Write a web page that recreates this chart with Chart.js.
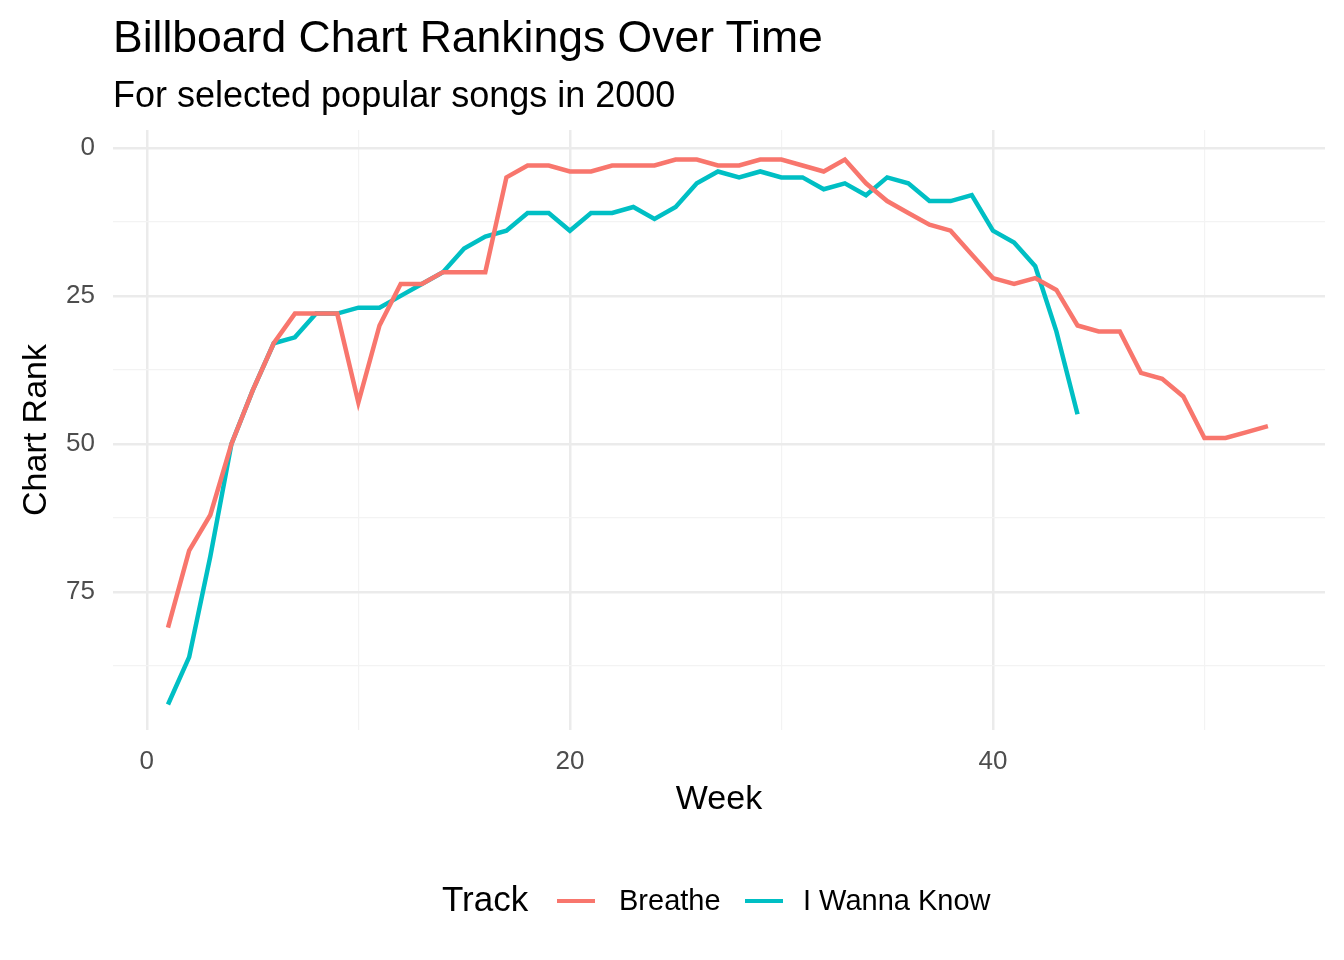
<!DOCTYPE html>
<html><head><meta charset="utf-8">
<script src="https://cdn.jsdelivr.net/npm/chart.js@4"></script>
<style>
body{margin:0;background:#fff;font-family:Arial,"Liberation Sans",sans-serif;}
#wrap{position:relative;width:1344px;height:960px;}
canvas{position:absolute;left:0;top:0;}
.t{position:absolute;white-space:nowrap;color:#000;}
.sw{position:absolute;height:4px;width:38px;top:899px;}
</style></head><body>
<div id="wrap">
<canvas id="c" width="1344" height="960"></canvas>
<div class="t" style="left:113px;top:12px;font-size:44.5px;">Billboard Chart Rankings Over Time</div>
<div class="t" style="left:113px;top:74px;font-size:36px;">For selected popular songs in 2000</div>
<div class="t" style="left:442px;top:879px;font-size:35px;">Track</div>
<div class="sw" style="left:557px;background:#F8766D"></div>
<div class="t" style="left:619px;top:884px;font-size:29px;">Breathe</div>
<div class="sw" style="left:745px;background:#00BFC4"></div>
<div class="t" style="left:803px;top:884px;font-size:29px;">I Wanna Know</div>
</div>
<script>
const seriesNames = ["Breathe","I Wanna Know"];
const breatheRank = [81,68,62,50,41,33,28,28,28,43,30,23,23,21,21,21,5,3,3,4,4,3,3,3,2,2,3,3,2,2,3,4,2,6,9,11,13,14,18,22,23,22,24,30,31,31,38,39,42,49,49,48,47];
const wannaRank = [94,86,69,50,41,33,32,28,28,27,27,25,23,21,17,15,14,11,11,14,11,11,10,12,10,6,4,5,4,5,5,7,6,8,5,6,9,9,8,14,16,20,31,45];
const xTicks = [0,20,40];
const yTicks = [0,25,50,75];
const toPts = a => a.map((v,i)=>({x:i+1,y:v}));
new Chart(document.getElementById('c'),{
 type:'line',
 data:{datasets:[
  {label:seriesNames[0],data:toPts(breatheRank),borderColor:'#F8766D',borderWidth:4.5,pointRadius:0,tension:0},
  {label:seriesNames[1],data:toPts(wannaRank),borderColor:'#00BFC4',borderWidth:4.5,pointRadius:0,tension:0}
 ]},
 options:{
  responsive:false,animation:false,
  layout:{padding:{top:130,bottom:140,left:0,right:19}},
  plugins:{legend:{display:false},tooltip:{enabled:false}},
  scales:{
   x:{type:'linear',min:-1.6,max:55.7,
      afterFit:s=>{s.height=90;},
      afterBuildTicks:s=>{s.ticks=[0,10,20,30,40,50].map(v=>({value:v}));},
      border:{display:false},
      grid:{drawTicks:false,color:c=>xTicks.includes(c.tick.value)?'#ebebeb':'#f3f3f3',lineWidth:c=>xTicks.includes(c.tick.value)?2.5:1.2},
      ticks:{padding:16,color:'#4d4d4d',font:{size:26,family:'Arial'},maxRotation:0,callback:v=>xTicks.includes(v)?String(v):''},
      title:{display:true,text:'Week',color:'#000',font:{size:34,family:'Arial'},padding:{top:0,bottom:0}}},
   y:{type:'linear',reverse:true,min:-3,max:98.3,
      afterFit:s=>{s.width=113;},
      afterBuildTicks:s=>{s.ticks=[0,12.5,25,37.5,50,62.5,75,87.5].map(v=>({value:v}));},
      border:{display:false},
      grid:{drawTicks:false,color:c=>yTicks.includes(c.tick.value)?'#ebebeb':'#f3f3f3',lineWidth:c=>yTicks.includes(c.tick.value)?2.5:1.2},
      ticks:{padding:18,color:'#4d4d4d',font:{size:26,family:'Arial'},callback:v=>yTicks.includes(v)?String(v):''},
      title:{display:true,text:'Chart Rank',color:'#000',font:{size:34,family:'Arial'},padding:{top:16,bottom:0}}}
  }
 }
});
</script></body></html>
